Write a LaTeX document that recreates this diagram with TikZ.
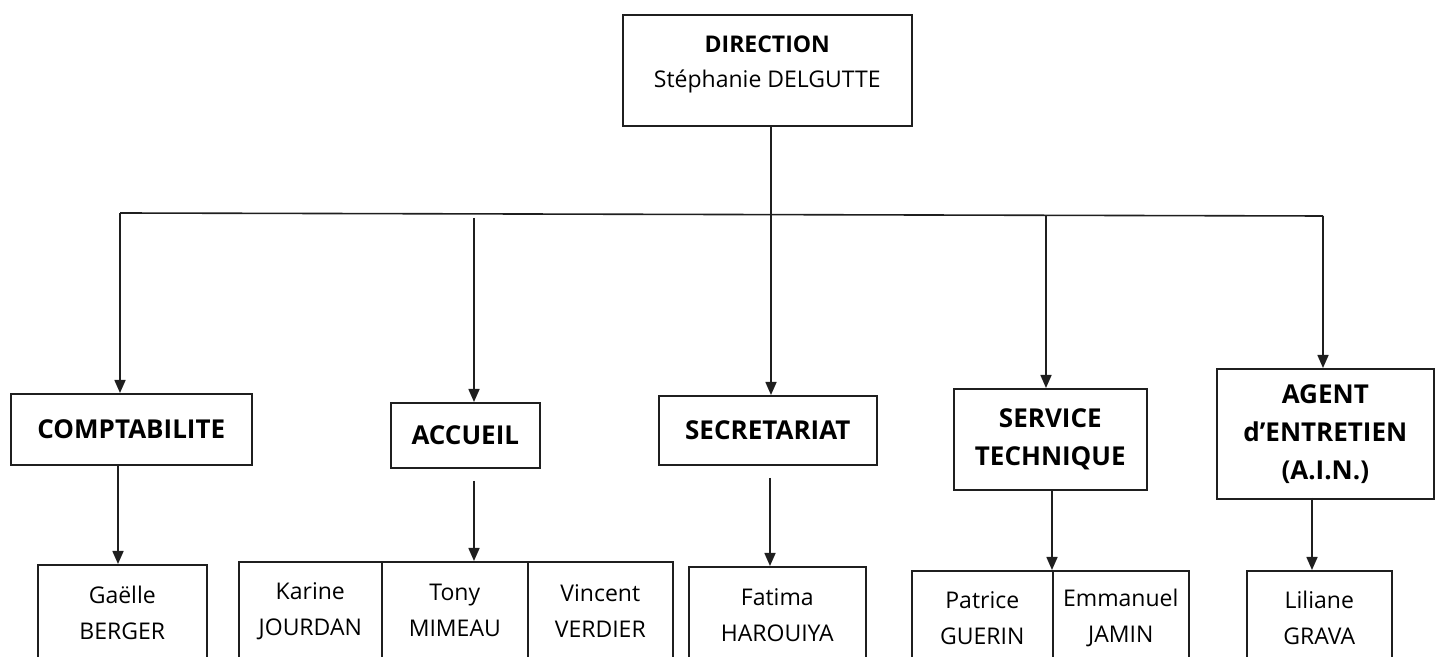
\documentclass[tikz,border=0pt]{standalone}
\usepackage{fontspec}
\setmainfont{Open Sans}
\usetikzlibrary{arrows.meta}
\begin{document}
\begin{tikzpicture}[x=0.5pt,y=-0.5pt,
  box/.style={draw=black!88, line width=0.8pt, inner sep=0pt, align=center, anchor=north west},
  hdtext/.style={font=\fontsize{13}{19}\selectfont\bfseries},
  nmtext/.style={font=\fontsize{11.5}{18}\selectfont},
  arr/.style={draw=black!88, line width=0.8pt, -{Triangle[width=5.5pt,length=6.5pt]}},
  conn/.style={draw=black!88, line width=0.8pt}]
\useasboundingbox (0,0) rectangle (1437,657);
\clip (0,0) rectangle (1437,657);
% top
\node[box, minimum width=144.5pt, minimum height=55.5pt,
  font=\fontsize{11.5}{17.5}\selectfont] (dir) at (622,14)
  {\raisebox{3.5pt}[\height][\depth]{\begin{tabular}{@{}c@{}}\textbf{DIRECTION}\\Stéphanie DELGUTTE\end{tabular}}};
% second level
\node[box, hdtext, minimum width=120.5pt, minimum height=35.5pt] (comp) at (10,393) {COMPTABILITE};
\node[box, hdtext, minimum width=74.5pt, minimum height=32.5pt] (accueil) at (390,402) {ACCUEIL};
\node[box, hdtext, minimum width=109pt, minimum height=34.5pt] (secr) at (658,395) {SECRETARIAT};
\node[box, hdtext, minimum width=96.5pt, minimum height=50.5pt] (serv) at (953,388) {SERVICE\\TECHNIQUE};
\node[box, hdtext, minimum width=108.5pt, minimum height=65pt] (agent) at (1216,368) {AGENT\\d'ENTRETIEN\\(A.I.N.)};
% third level
\node[box, nmtext, minimum width=84.5pt, minimum height=48pt] (gaelle) at (37,564) {Gaëlle\\BERGER};
\node[box, nmtext, minimum width=71.5pt, minimum height=49pt] (karine) at (238,561) {Karine\\JOURDAN};
\node[box, nmtext, minimum width=73pt, minimum height=49pt] (tony) at (381,561) {Tony\\MIMEAU};
\node[box, nmtext, minimum width=72.5pt, minimum height=49pt] (vincent) at (527,561) {Vincent\\VERDIER};
\node[box, nmtext, minimum width=88.5pt, minimum height=48pt] (fatima) at (688,566) {Fatima\\HAROUIYA};
\node[box, nmtext, minimum width=70.5pt, minimum height=47pt] (patrice) at (911,570) {Patrice\\GUERIN};
\node[box, nmtext, minimum width=68pt, minimum height=47pt] (emmanuel) at (1052,570) {Emmanuel\\JAMIN};
\node[box, nmtext, minimum width=72.5pt, minimum height=47pt] (liliane) at (1246,570) {Liliane\\GRAVA};
% bus
\coordinate (busL) at (120,213);
\coordinate (busR) at (1323,216);
\coordinate (busM) at (771,214.5);
\coordinate (busA) at (474,218);
\coordinate (busS) at (1046,215.5);
\draw[conn] (busL) -- (busR);
\draw[conn] (dir.south -| busM) -- (busM);
\draw[arr] (busL) -- (comp.north -| busL);
\draw[arr] (busA) -- (accueil.north -| busA);
\draw[arr] (busM) -- (secr.north -| busM);
\draw[arr] (busS) -- (serv.north -| busS);
\draw[arr] (busR) -- (agent.north -| busR);
% lower arrows
\coordinate (compD) at (118,0);
\coordinate (accD) at (474,481);
\coordinate (secD) at (770,478);
\coordinate (agD) at (1312,498);
\draw[arr] (comp.south -| compD) -- (gaelle.north -| compD);
\draw[arr] (accD) -- (tony.north -| accD);
\draw[arr] (secD) -- (fatima.north -| secD);
\draw[arr] (serv.south -| emmanuel.north west) -- (emmanuel.north west);
\draw[arr] (agD) -- (liliane.north -| agD);
\end{tikzpicture}
\end{document}
